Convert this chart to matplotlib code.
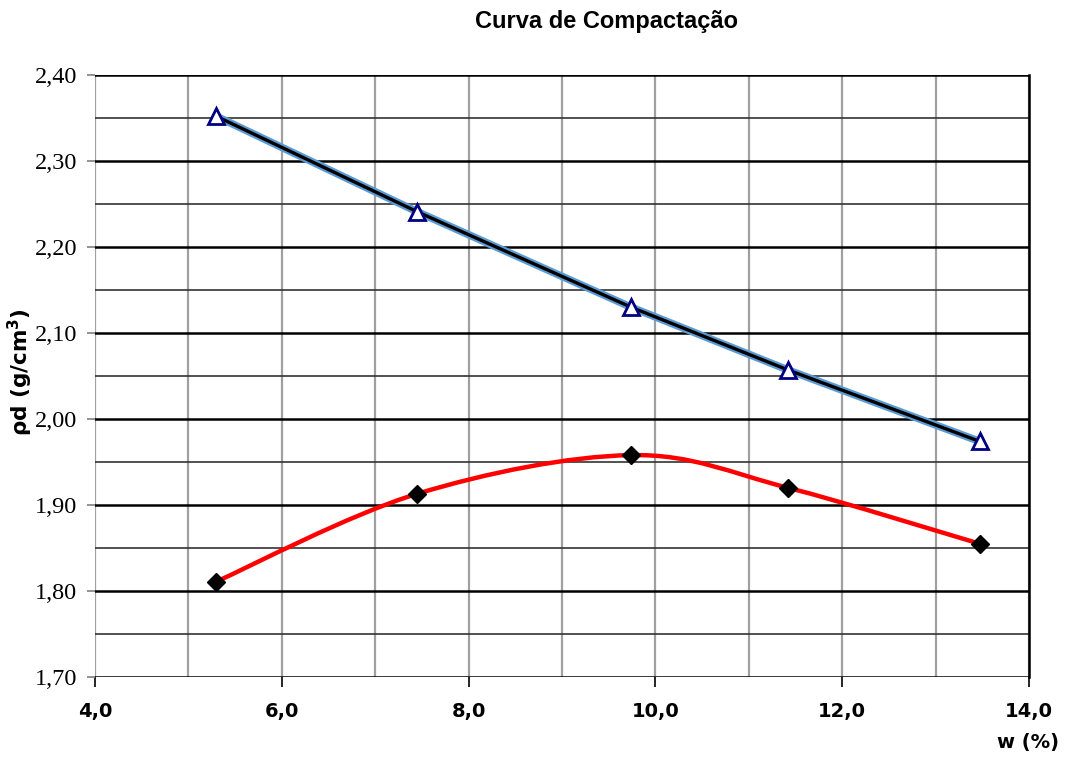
import numpy as np
import matplotlib
matplotlib.use("Agg")
import matplotlib.pyplot as plt
from matplotlib.path import Path
from matplotlib.patches import PathPatch

# -----------------------------
# data
# -----------------------------
w_pct = [5.30, 7.45, 9.74, 11.42, 13.47]
rho_d = [1.811, 1.913, 1.958, 1.920, 1.855]
rho_sat = [2.352, 2.241, 2.130, 2.057, 1.974]

x_ticks = [4.0, 6.0, 8.0, 10.0, 12.0, 14.0]
y_ticks = [1.70, 1.80, 1.90, 2.00, 2.10, 2.20, 2.30, 2.40]


def smooth_path(xs, ys):
    # Excel-style smoothed line: cubic bezier with catmull-rom control points
    pts = np.column_stack([xs, ys])
    n = len(pts)
    verts = [pts[0]]
    codes = [Path.MOVETO]
    for i in range(n - 1):
        p0 = pts[max(i - 1, 0)]
        p1 = pts[i]
        p2 = pts[i + 1]
        p3 = pts[min(i + 2, n - 1)]
        c1 = p1 + (p2 - p0) / 6.0
        c2 = p2 - (p3 - p1) / 6.0
        verts += [c1, c2, p2]
        codes += [Path.CURVE4] * 3
    return Path(verts, codes)


fig = plt.figure(figsize=(10.67, 7.57), dpi=100)
ax = fig.add_axes([0.089, 0.1057, 0.8754, 0.7952])

ax.set_xlim(4.0, 14.0)
ax.set_ylim(1.70, 2.40)

# grid
for xv in np.arange(4.0, 14.01, 1.0):
    ax.axvline(xv, color="#a0a0a0", lw=1.6, zorder=1)
for yv in np.arange(1.70, 2.401, 0.05):
    major = abs(round(yv * 10) - yv * 10) < 1e-6
    ax.axhline(yv, color="black" if major else "#333333",
               lw=1.8 if major else 1.2, zorder=1.5)

for s in ["left", "top", "bottom"]:
    ax.spines[s].set_visible(False)
ax.spines["right"].set_linewidth(1.8)
ax.spines["right"].set_color("black")

# saturation line (black with blue glow)
ax.plot(w_pct, rho_sat, color="#5b9bd5", lw=5.5, zorder=3, solid_capstyle="round")
ax.plot(w_pct, rho_sat, color="black", lw=2.4, zorder=4)
ax.plot(w_pct, rho_sat, linestyle="none", marker="^", markersize=12,
        markerfacecolor="white", markeredgecolor="#000080",
        markeredgewidth=2, zorder=5)

# compaction curve
ax.add_patch(PathPatch(smooth_path(w_pct, rho_d), facecolor="none",
                       edgecolor="#ff0000", lw=3.2, zorder=3))
ax.plot(w_pct, rho_d, linestyle="none", marker="D", markersize=9,
        color="black", zorder=5)

# ticks
ax.set_xticks(x_ticks)
ax.set_xticklabels([f"{v:.1f}".replace(".", ",") for v in x_ticks],
                   fontsize=14, fontweight="bold", family="DejaVu Sans")
ax.set_yticks(y_ticks)
ax.set_yticklabels([f"{v:.2f}".replace(".", ",") for v in y_ticks],
                   fontsize=17.5, family="Liberation Serif")
ax.tick_params(axis="x", direction="out", length=7, width=1.2,
               color="black", pad=11)
ax.tick_params(axis="y", direction="out", length=6, width=1.2,
               color="#808080", pad=7)

fig.text(0.568, 0.971, "Curva de Compactação", ha="center", va="center",
         fontsize=17, fontweight="bold", family="Liberation Sans")
fig.text(0.0195, 0.509, r"ρd (g/cm$^\mathbf{3}$)", rotation=90, ha="center",
         va="center", fontsize=15.5, fontweight="bold", family="DejaVu Sans")
fig.text(0.9635, 0.0185, "w (%)", ha="center", va="center",
         fontsize=14, fontweight="bold", family="DejaVu Sans")

fig.savefig("out.png", dpi=100)
